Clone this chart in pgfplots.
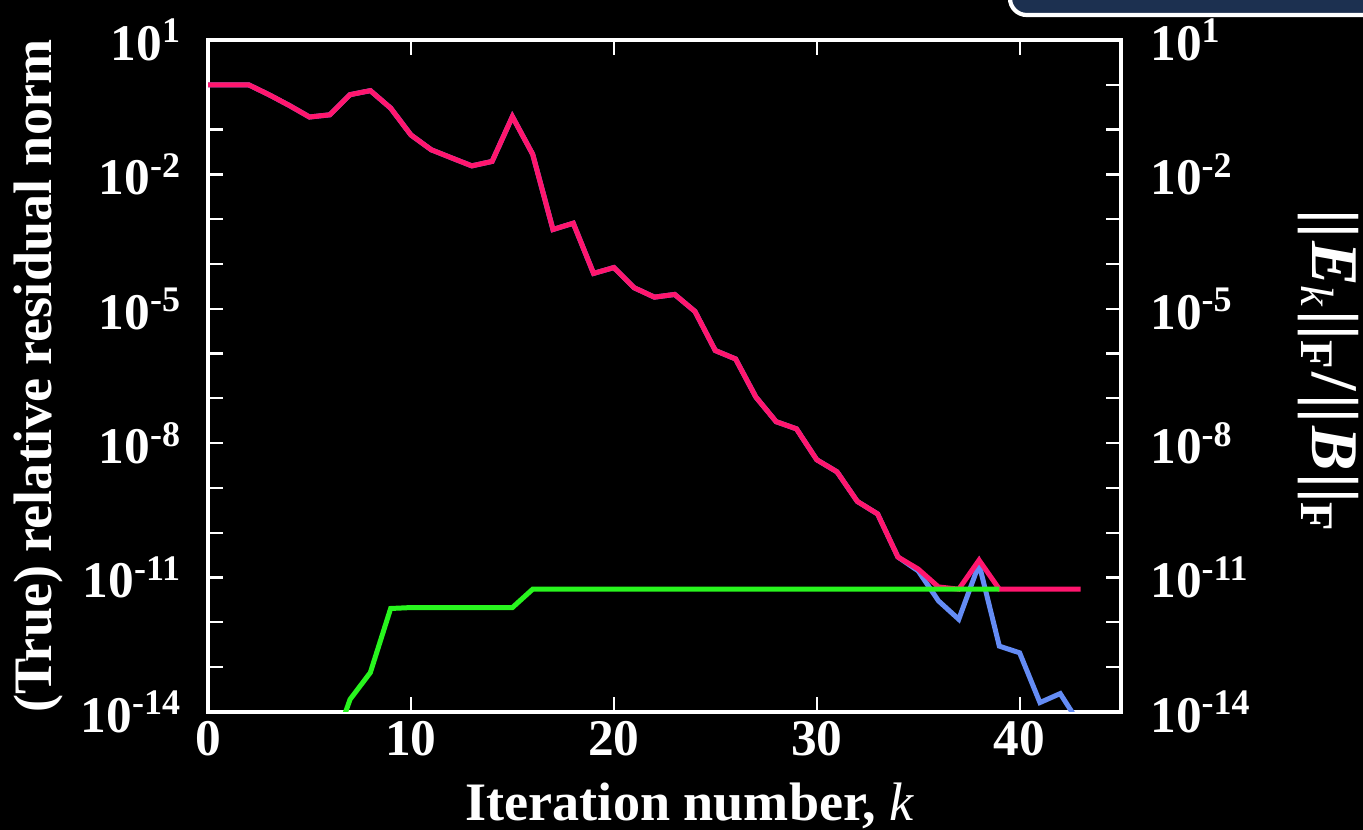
\documentclass[border=0pt]{standalone}
\usepackage{pgfplots}
\pgfplotsset{compat=1.18}
\usepackage{fontspec}
\setmainfont{Liberation Serif}
\usetikzlibrary{backgrounds}
\definecolor{cred}{RGB}{255,22,110}
\definecolor{cblue}{RGB}{100,140,245}
\definecolor{cgreen}{RGB}{40,245,30}
\definecolor{navy}{RGB}{28,48,80}
\begin{document}
\begin{tikzpicture}
\begin{axis}[
    name=ax,
    scale only axis, width=328.7pt, height=241.9pt,
    xmin=0, xmax=45, ymode=log, ymin=1e-14, ymax=1e1,
    axis line style={white, line width=1.3pt},
    tick style={white, line width=0.8pt},
    major tick length=5.4pt,
    tick align=inside,
    ytick={1e-14,1e-13,1e-12,1e-11,1e-10,1e-9,1e-8,1e-7,1e-6,1e-5,1e-4,1e-3,1e-2,1e-1,1e0,1e1},
    yticklabels={10\textsuperscript{-14},{},{},10\textsuperscript{-11},{},{},10\textsuperscript{-8},{},{},10\textsuperscript{-5},{},{},10\textsuperscript{-2},{},{},10\textsuperscript{1}},
    yminorticks=false, xminorticks=false,
    xtick={0,10,20,30,40},
    xticklabels={0,10,20,30,40},
    tick label style={white, font=\fontsize{18.5}{18.5}\selectfont\bfseries},
    yticklabel style={xshift=-6pt},
]
\addplot[cblue, line width=1.8pt] coordinates {
(0,1) (1,1) (2,1) (3,6.03e-1) (4,3.47e-1) (5,1.91e-1) (6,2.14e-1) (7,6.03e-1) (8,7.41e-1) (9,3.02e-1)
(10,7.59e-2) (11,3.55e-2) (12,2.34e-2) (13,1.55e-2) (14,1.95e-2) (15,1.95e-1) (16,2.82e-2) (17,5.89e-4) (18,8.13e-4) (19,6.17e-5)
(20,8.32e-5) (21,2.95e-5) (22,1.82e-5) (23,2.09e-5) (24,8.71e-6) (25,1.17e-6) (26,7.59e-7) (27,1.07e-7) (28,3.02e-8) (29,2.09e-8)
(30,4.27e-9) (31,2.29e-9) (32,5.01e-10) (33,2.63e-10) (34,2.88e-11) (35,1.41e-11) (36,3.02e-12) (37,1.17e-12) (38,2.00e-11) (39,2.95e-13)
(40,2.09e-13) (41,1.62e-14) (42,2.57e-14) (43,5.0e-15)
};
\addplot[cred, line width=1.8pt] coordinates {
(0,1) (1,1) (2,1) (3,6.03e-1) (4,3.47e-1) (5,1.91e-1) (6,2.14e-1) (7,6.03e-1) (8,7.41e-1) (9,3.02e-1)
(10,7.59e-2) (11,3.55e-2) (12,2.34e-2) (13,1.55e-2) (14,1.95e-2) (15,1.95e-1) (16,2.82e-2) (17,5.89e-4) (18,8.13e-4) (19,6.17e-5)
(20,8.32e-5) (21,2.95e-5) (22,1.82e-5) (23,2.09e-5) (24,8.71e-6) (25,1.17e-6) (26,7.59e-7) (27,1.07e-7) (28,3.02e-8) (29,2.09e-8)
(30,4.27e-9) (31,2.29e-9) (32,5.01e-10) (33,2.63e-10) (34,2.88e-11) (35,1.55e-11) (36,6.17e-12) (37,5.50e-12) (38,2.45e-11) (39,5.50e-12)
(40,5.50e-12) (41,5.50e-12) (42,5.50e-12) (43,5.50e-12)
};
\addplot[cgreen, line width=1.8pt] coordinates {
(6,1e-15) (7,1.91e-14) (8,7.59e-14) (9,2.04e-12) (10,2.14e-12) (11,2.14e-12) (12,2.14e-12) (13,2.14e-12) (14,2.14e-12) (15,2.14e-12)
(16,5.50e-12) (20,5.50e-12) (25,5.50e-12) (30,5.50e-12) (35,5.50e-12) (39,5.50e-12)
};
\end{axis}
\begin{axis}[
    scale only axis, width=328.7pt, height=241.9pt,
    xmin=0, xmax=45, ymode=log, ymin=1e-14, ymax=1e1,
    axis y line*=right, axis x line=none,
    axis line style={white, line width=1.3pt},
    tick style={white, line width=0.8pt},
    major tick length=5.4pt,
    tick align=inside,
    ytick={1e-14,1e-13,1e-12,1e-11,1e-10,1e-9,1e-8,1e-7,1e-6,1e-5,1e-4,1e-3,1e-2,1e-1,1e0,1e1},
    yticklabels={10\textsuperscript{-14},{},{},10\textsuperscript{-11},{},{},10\textsuperscript{-8},{},{},10\textsuperscript{-5},{},{},10\textsuperscript{-2},{},{},10\textsuperscript{1}},
    yminorticks=false,
    tick label style={white, font=\fontsize{18.5}{18.5}\selectfont\bfseries},
    yticklabel style={xshift=7pt},
]
\end{axis}
\node[white, font=\fontsize{19.5}{19.5}\selectfont\bfseries, anchor=base]
  at ([xshift=9pt, yshift=-39pt]ax.south) {Iteration number, {\mdseries\itshape k}};
\node[white, font=\fontsize{19.5}{19.5}\selectfont\bfseries, rotate=90]
  at ([xshift=-61pt]ax.west) {(True) relative residual norm};
\node[white, font=\fontsize{24}{24}\selectfont\bfseries, rotate=-90, inner sep=0pt]
  at ([xshift=74.5pt, yshift=1.8pt]ax.east) {||\kern1pt\textit{E}\textsubscript{{\mdseries\itshape k}}\kern1pt||\textsubscript{F}\kern1pt/\kern1pt||\kern1pt\textit{B}\kern1pt||\textsubscript{F}};
\draw[white, line width=1.5pt, fill=navy, rounded corners=6pt]
  ([xshift=-40pt, yshift=9pt]ax.north east) rectangle ++(200pt, 40pt);
\coordinate (bl) at ([xshift=-74.9pt, yshift=-42.5pt]ax.south west);
\coordinate (tr) at ([xshift=87.1pt, yshift=14.4pt]ax.north east);
\begin{scope}[on background layer]
\fill[black] (bl) rectangle (tr);
\end{scope}
\pgfresetboundingbox
\path[use as bounding box] (bl) rectangle (tr);
\end{tikzpicture}
\end{document}
